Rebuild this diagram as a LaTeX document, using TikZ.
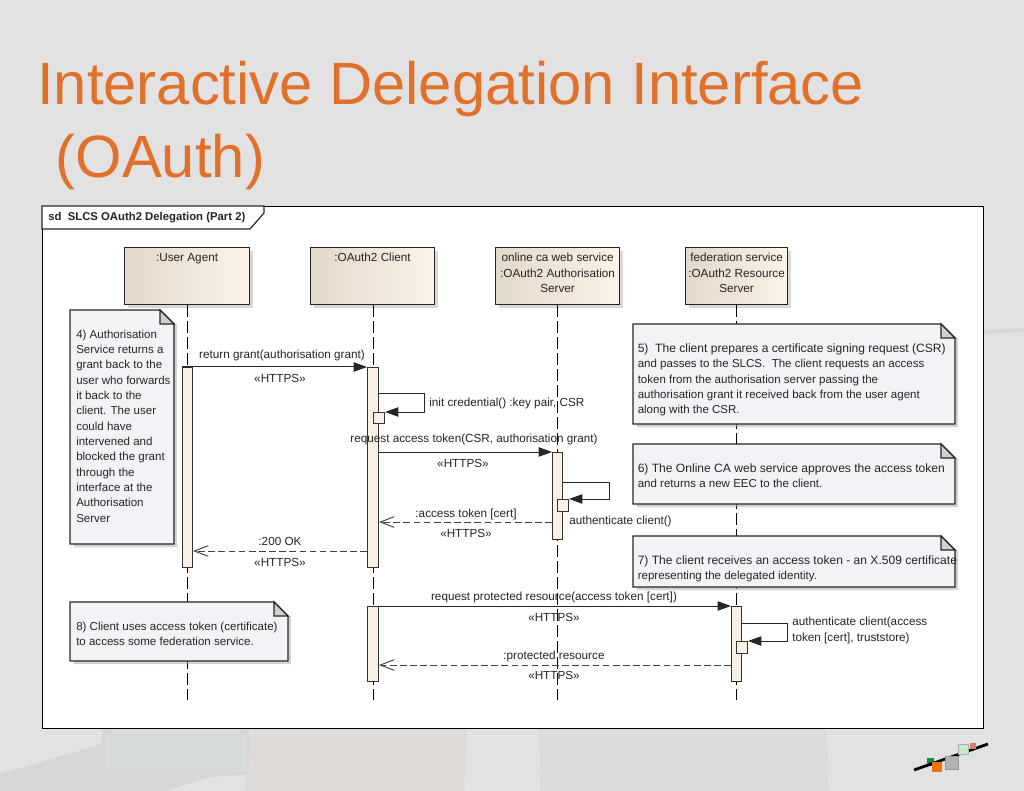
\documentclass[tikz,border=0pt]{standalone}
\usepackage{fontspec}
\setmainfont{Liberation Sans}
\usetikzlibrary{arrows.meta,calc}
\definecolor{bgbase}{HTML}{E2E2E2}
\definecolor{titleorange}{HTML}{E0702A}
\definecolor{txt}{HTML}{252525}
\definecolor{boxl}{HTML}{E2D9CA}
\definecolor{boxr}{HTML}{FBF3E7}
\definecolor{actfill}{HTML}{F8F0E4}
\definecolor{notefill}{HTML}{F4F2F6}
\definecolor{foldfill}{HTML}{D0D0D2}
\definecolor{shadowc}{HTML}{A8A8A8}
\definecolor{bgdark}{HTML}{D7D7D7}
\definecolor{bggreen}{HTML}{D6DBD8}
\definecolor{bgbeige}{HTML}{DEDAD7}
\definecolor{bggray}{HTML}{DCDCDC}
\definecolor{logogreen}{RGB}{20,140,60}
\definecolor{logoorange}{RGB}{240,115,10}
\definecolor{logogray}{RGB}{178,178,180}
\definecolor{logograyd}{RGB}{150,150,150}
\definecolor{logomint}{RGB}{205,228,208}
\definecolor{logomintd}{RGB}{165,180,165}
\definecolor{logosalmon}{RGB}{205,130,105}
\newcommand{\dfont}{\fontsize{8.8}{11.5}\selectfont}
\newcommand{\wfont}{\fontsize{9.05}{11.5}\selectfont}
\newcommand{\nfont}{\fontsize{8.65}{11.5}\selectfont}
\tikzset{
  x=0.75pt,y=-0.75pt,
  lifeline/.style={draw=black,line width=0.6pt,dash pattern=on 8.5pt off 3.5pt},
  actbox/.style={draw=black!80,line width=0.75pt,fill=actfill,inner sep=0pt,anchor=north west},
  objbox/.style={draw=black!85,line width=0.9pt,left color=boxl,right color=boxr,inner sep=0pt,anchor=north west,text=txt},
  msg/.style={draw=black!85,line width=0.75pt,-{Triangle[length=10pt,width=7pt]}},
  ret/.style={draw=black!75,line width=0.7pt,dash pattern=on 5pt off 2.6pt,-{Straight Barb[length=10.5pt,width=8pt]}},
  lbl/.style={inner sep=0pt,text=txt,font=\dfont},
  notebody/.style={draw=black!85,line width=0.9pt,fill=notefill,line join=miter},
  notetext/.style={inner sep=0pt,anchor=north west,text=txt,font=\nfont,align=left},
}
% \objnode{name}{x1}{y1}{x2}{y2}{text}
\newcommand{\objnode}[6]{%
  \fill[shadowc,opacity=.45] (#2+4,#3+4) rectangle (#4+4,#5+4);
  \pgfmathsetlengthmacro{\bw}{(#4-#2)*0.75pt}%
  \pgfmathsetlengthmacro{\bh}{(#5-#3)*0.75pt}%
  \node[objbox,font=\dfont,minimum width=\bw,minimum height=\bh] (#1) at (#2,#3)
    {\parbox[c][\bh][t]{\bw}{\centering\vspace{4.3pt}#6}};}
% \actnode{name}{x1}{y1}{x2}{y2}
\newcommand{\actnode}[5]{%
  \pgfmathsetlengthmacro{\bw}{(#4-#2)*0.75pt}%
  \pgfmathsetlengthmacro{\bh}{(#5-#3)*0.75pt}%
  \node[actbox,minimum width=\bw,minimum height=\bh] (#1) at (#2,#3) {};}
% \notenode[left pad]{name}{x1}{y1}{x2}{y2}{text}
\newcommand{\notenode}[7][6]{%
  \fill[shadowc,opacity=.5] (#3+4,#4+4) -- (#5+3,#4+14) -- (#5+3,#6+3) -- (#3+4,#6+3) -- cycle;
  \path[notebody] (#3,#4) -- (#5-14,#4) -- (#5,#4+14) -- (#5,#6) -- (#3,#6) -- cycle;
  \path[notebody,fill=foldfill] (#5-14,#4) -- (#5,#4+14) -- (#5-14,#4+14) -- cycle;
  \node[notetext] (#2) at (#3+#1,#4+19.5) {#7};}
\begin{document}
\begin{tikzpicture}
\useasboundingbox (0,0) rectangle (1024,791);
% slide background
\fill[bgbase] (0,0) rectangle (1024,791);
\fill[bgdark] (0,774) -- (102,744) -- (102,728) -- (250,728) -- (250,791) -- (0,791) -- cycle;
\fill[bgbase] (165,791) -- (210,777) -- (247,775) -- (245,791) -- cycle;
\fill[bggreen] (106,728) rectangle (246,771);
\fill[bgbeige] (252,728) -- (467,728) -- (464,791) -- (246,791) -- cycle;
\fill[bggray] (538,728) -- (826,728) -- (829,791) -- (541,791) -- cycle;
\fill[bgdark] (983,330) -- (1024,328) -- (1024,332) -- (983,334) -- cycle;
% title
\node[inner sep=0pt,anchor=base west,text=titleorange,font=\fontsize{44.8}{48}\selectfont] (title1) at (37,105) {Interactive Delegation Interface};
\node[inner sep=0pt,anchor=base west,text=titleorange,font=\fontsize{44.8}{48}\selectfont] (title2) at (55.5,178) {(OAuth)};
% frame
\node[draw=black,line width=0.9pt,fill=white,inner sep=0pt,anchor=north west,minimum width=705.75pt,minimum height=391.5pt] (frame) at (42,206) {};
\draw[black!85,line width=0.9pt,fill=white] (42,206) -- (264,206) -- (264,213) -- (250,229) -- (42,229) -- cycle;
\node[inner sep=0pt,anchor=west,text=txt,font=\fontsize{8.5}{10}\selectfont\bfseries] (frametitle) at (48,217.5) {sd\ \ SLCS OAuth2 Delegation (Part 2)};
% objects
\objnode{ua}{124}{247}{249}{304}{:User Agent}
\objnode{cl}{310}{247}{434}{304}{:OAuth2 Client}
\objnode{as}{495}{247}{619}{304}{online ca web service\\:OAuth2 Authorisation\\Server}
\objnode{rs}{685}{247}{787}{304}{federation service\\:OAuth2 Resource\\Server}
% lifelines
\coordinate (uaEnd) at (187,700);
\coordinate (clEnd) at (373,700);
\coordinate (asEnd) at (557,700);
\coordinate (rsEnd) at (736,700);
\draw[lifeline] (ua.south -| uaEnd) -- (uaEnd);
\draw[lifeline] (cl.south -| clEnd) -- (clEnd);
\draw[lifeline] (as.south -| asEnd) -- (asEnd);
\draw[lifeline] (rs.south -| rsEnd) -- (rsEnd);
% activations
\actnode{uaA}{182}{367}{192}{567}
\actnode{clA}{367}{367}{378}{567}
\actnode{clB}{367}{606}{378}{681}
\actnode{asA}{552}{452}{562}{539}
\actnode{rsA}{731}{606}{741}{681}
\actnode{clC}{373}{412}{384}{423}
\actnode{asC}{557}{499}{568}{511}
\actnode{rsC}{736}{641}{747}{653}
% messages
\draw[msg] (uaA.north west) -- (clA.north west);
\draw[msg] (clA.east |- 0,452) -- (asA.north west);
\draw[ret] (asA.west |- 0,522) -- (clA.east |- 0,522);
\draw[ret] (clA.west |- 0,551) -- (uaA.east |- 0,551);
\draw[msg] (clB.north east) -- (rsA.north west);
\draw[ret] (rsA.west |- 0,665) -- (clB.east |- 0,665);
% self calls
\draw[msg] (clA.east |- 0,393) -- (424,393) -- (424,412) -- (clC.north east);
\draw[msg] (asA.east |- 0,482) -- (609,482) -- (609,499) -- (asC.north east);
\draw[msg] (rsA.east |- 0,623) -- (787,623) -- (787,641) -- (rsC.north east);
% message labels
\node[lbl] (l1) at (282,355) {return grant(authorisation grant)};
\node[lbl] (h1) at (280,378) {«HTTPS»};
\node[lbl,anchor=west] (l2) at (429,403) {init credential() :key pair, CSR};
\node[lbl] (l3) at (474,439) {request access token(CSR, authorisation grant)};
\node[lbl] (h3) at (463,463) {«HTTPS»};
\node[lbl] (l4) at (466,514) {:access token [cert]};
\node[lbl] (h4) at (466,533) {«HTTPS»};
\node[lbl,anchor=west] (l5) at (569,521) {authenticate client()};
\node[lbl] (l6) at (280,541) {:200 OK};
\node[lbl] (h6) at (280,562) {«HTTPS»};
\node[lbl] (l7) at (554,597) {request protected resource(access token [cert])};
\node[lbl] (h7) at (554,617) {«HTTPS»};
\node[lbl] (l8) at (554,656) {:protected resource};
\node[lbl] (h8) at (554,675) {«HTTPS»};
\node[lbl,anchor=north west,align=left] (l9) at (792,617) {authenticate client(access\\token [cert], truststore)};
% notes
\notenode{n4}{70}{310}{174}{544}{4) Authorisation\\Service returns a\\grant back to the\\user who forwards\\it back to the\\client. The user\\could have\\intervened and\\blocked the grant\\through the\\interface at the\\Authorisation\\Server}
\notenode[4.5]{n5}{633}{324}{955}{424}{\wfont 5)\ \ The client prepares a certificate signing request (CSR)\\and passes to the SLCS.\ \ The client requests an access\\token from the authorisation server passing the\\authorisation grant it received back from the user agent\\along with the CSR.}
\notenode[4.5]{n6}{633}{444}{955}{504}{\wfont 6) The Online CA web service approves the access token\\and returns a new EEC to the client.}
\notenode[4.5]{n7}{633}{536}{955}{587}{\wfont 7) The client receives an access token - an X.509 certificate\\representing the delegated identity.}
\notenode{n8}{70}{602}{288}{661}{8) Client uses access token (certificate)\\to access some federation service.}
% logo
\fill[logogreen] (927,758) rectangle (934,766);
\draw[black,line width=2.1pt] (914,770) -- (988,744);
\fill[logoorange] (932,762) rectangle (942,772);
\draw[draw=logograyd,fill=logogray,line width=0.5pt] (945,756) rectangle (958,769);
\draw[draw=logomintd,fill=logomint,line width=0.5pt] (958,744) rectangle (968,754);
\fill[logosalmon] (970,743) rectangle (976,749);
\end{tikzpicture}
\end{document}
